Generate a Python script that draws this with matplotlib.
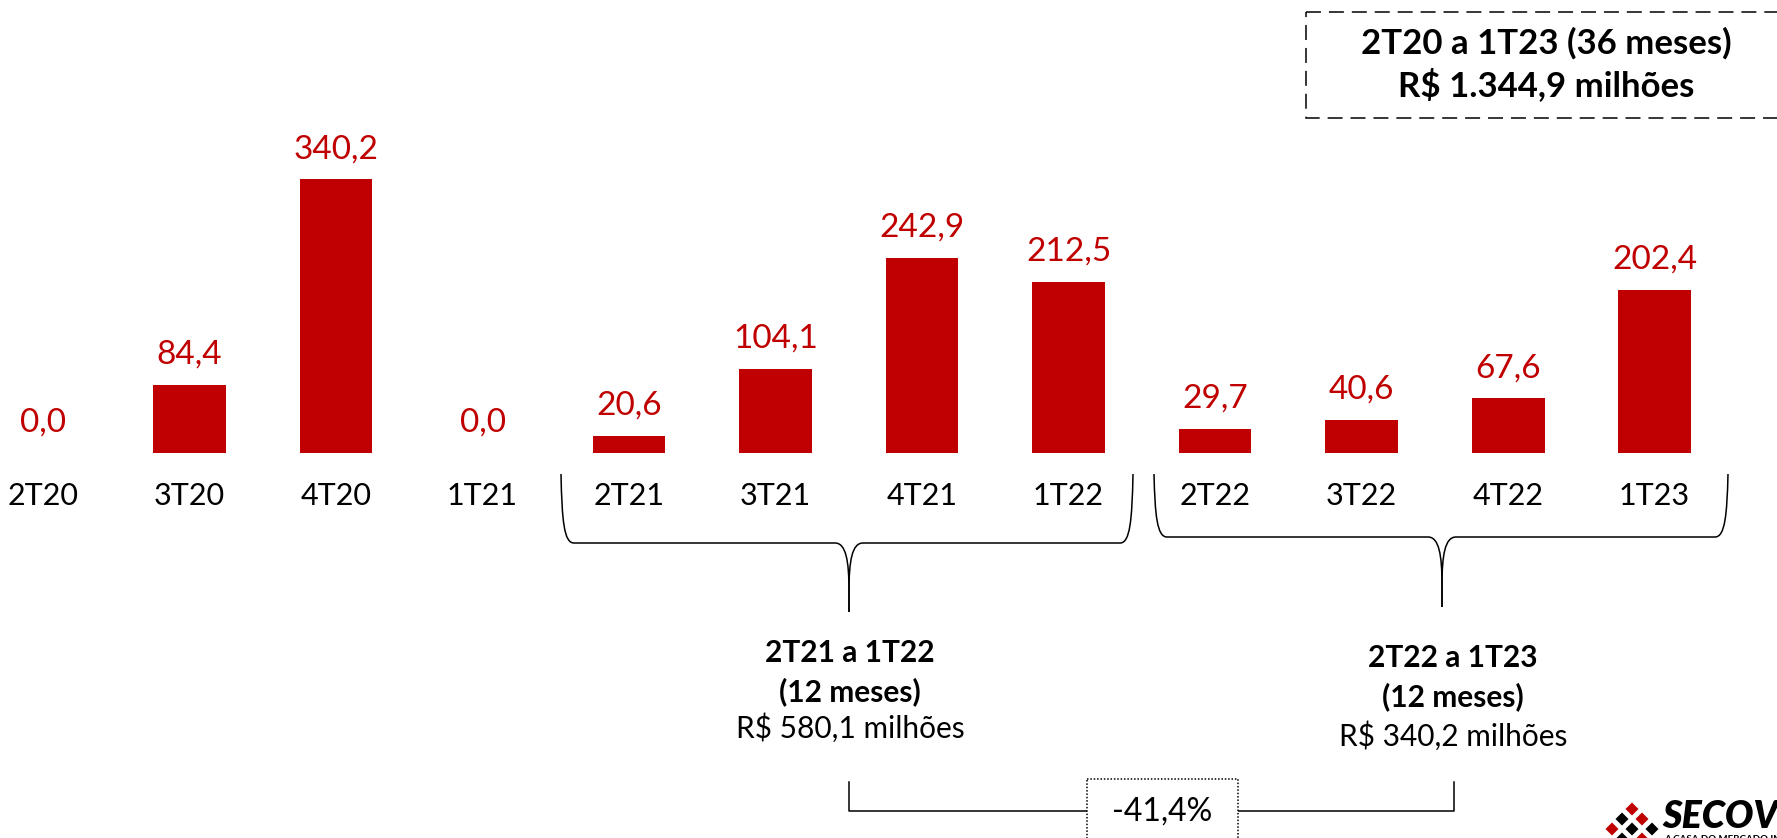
import matplotlib.pyplot as plt
from matplotlib.patches import Rectangle, Polygon, PathPatch
from matplotlib.path import Path

plt.rcParams['font.family'] = ['Lato', 'DejaVu Sans']

# quarters and values (R$ milhões)
quarters = ["2T20", "3T20", "4T20", "1T21", "2T21", "3T21", "4T21", "1T22",
            "2T22", "3T22", "4T22", "1T23"]
values = [0.0, 84.4, 340.2, 0.0, 20.6, 104.1, 242.9, 212.5, 29.7, 40.6, 67.6, 202.4]

total_txt = ["2T20 a 1T23 (36 meses)", "R$ 1.344,9 milhões"]
group1_txt = ["2T21 a 1T22", "(12 meses)", "R$ 580,1 milhões"]
group2_txt = ["2T22 a 1T23", "(12 meses)", "R$ 340,2 milhões"]
change_txt = "-41,4%"

RED = "#C00000"
W, H = 1777, 838

fig = plt.figure(figsize=(W / 100, H / 100), dpi=100)

# main bar axes: bottom at the bar baseline
base_px = H - 452.7
ax = fig.add_axes([0, base_px / H, 1, 1 - base_px / H])
x = list(range(len(quarters)))
bars = ax.bar(x, values, width=0.498, color=RED)
ax.bar_label(bars, labels=[f"{v:.1f}".replace(".", ",") for v in values],
             padding=11, color=RED, fontsize=24)
ax.set_xlim(-0.2935, 11.836)
ax.set_ylim(0, (H - base_px) / 0.8036)
ax.set_xticks(x, quarters, fontsize=22)
ax.tick_params(axis="x", length=0, pad=21)
ax.set_yticks([])
for s in ax.spines.values():
    s.set_visible(False)

# overlay in pixel coordinates for annotations
ov = fig.add_axes([0, 0, 1, 1])
ov.set_xlim(0, W)
ov.set_ylim(H, 0)
ov.axis("off")
ov.patch.set_alpha(0)

# top dashed box
ov.add_patch(Rectangle((1306, 12), 520, 106, fill=False, ec="black", lw=1.1,
                       ls=(0, (9.8, 5.2))))
ov.text(1546, 43, total_txt[0], ha="center", va="center", fontsize=25, fontweight="bold")
ov.text(1546, 85, total_txt[1], ha="center", va="center", fontsize=25, fontweight="bold")


def brace(x0, x1, xm, yt, yh, yb):
    for xa, sgn in ((x0, 1), (x1, -1)):
        verts = [(xa, yt), (xa + sgn * 1, yh - 22), (xa + sgn * 3, yh), (xa + sgn * 13, yh),
                 (xm - sgn * 14, yh),
                 (xm - sgn * 3, yh), (xm, yh + 18), (xm, yh + 48),
                 (xm, yb)]
        codes = [Path.MOVETO, Path.CURVE4, Path.CURVE4, Path.CURVE4, Path.LINETO,
                 Path.CURVE4, Path.CURVE4, Path.CURVE4, Path.LINETO]
        ov.add_patch(PathPatch(Path(verts, codes), fill=False, ec="black", lw=1.1))


brace(561, 1133, 849, 474, 543, 612)
brace(1154, 1728, 1442, 474, 537, 607)

for i, (t, yy) in enumerate(zip(group1_txt, [653, 692, 728])):
    ov.text(850, yy, t, ha="center", va="center", fontsize=21.5,
            fontweight="bold" if i < 2 else "normal")
for i, (t, yy) in enumerate(zip(group2_txt, [658, 697, 736])):
    ov.text(1453, yy, t, ha="center", va="center", fontsize=21.5,
            fontweight="bold" if i < 2 else "normal")

# comparison bracket
ov.plot([849, 849, 1454, 1454], [782, 811, 811, 782], color="black", lw=1.1)
ov.add_patch(Rectangle((1087, 779), 151, 62, fc="white", ec="black", lw=1.1,
                       ls=(0, (1, 1.2)), zorder=3))
ov.text(1162, 812, change_txt, ha="center", va="center", fontsize=23, zorder=4)

# logo (approximation)
cx, cy = 1632, 822
for dx, dy, c in [(0, -13, RED), (-10, -3, "black"), (10, -3, RED),
                  (-20, 7, RED), (0, 7, "black"), (20, 7, "black"),
                  (-10, 17, "black"), (10, 17, RED)]:
    px, py = cx + dx, cy + dy
    ov.add_patch(Polygon([(px, py - 7), (px + 7, py), (px, py + 7), (px - 7, py)],
                         closed=True, fc=c, ec="white", lw=0.5))
ov.text(1662, 828, "SECOVI", fontsize=27, fontweight="heavy", style="italic",
        ha="left", va="baseline")
ov.text(1664, 842, "A CASA DO MERCADO IMOBILIÁRIO", fontsize=7, fontweight="bold",
        ha="left", va="baseline")

fig.savefig("out.png", dpi=100)
